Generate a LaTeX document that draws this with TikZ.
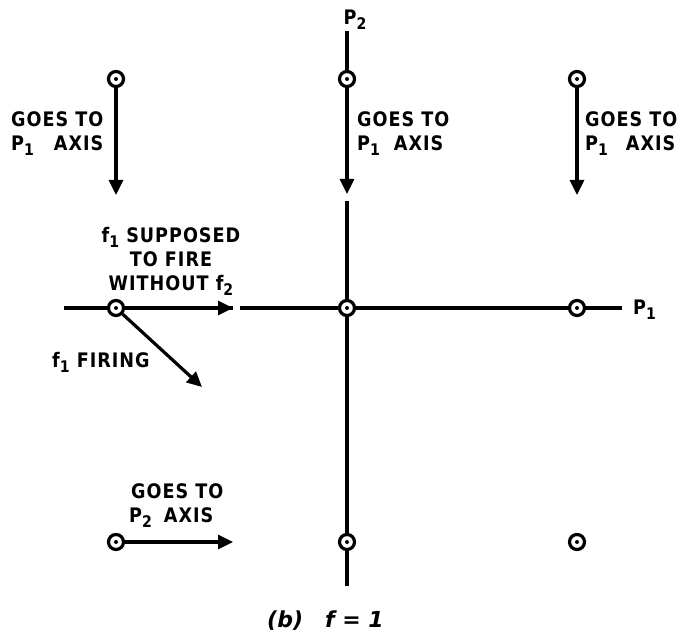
\documentclass[tikz,border=0pt]{standalone}
\usepackage{fontspec}
\setmainfont{DejaVu Sans}
\usetikzlibrary{arrows.meta}
\newcommand{\sbs}[1]{\raisebox{-5pt}{\fontsize{16}{16}\selectfont #1}}
\begin{document}
\begin{tikzpicture}[x=1pt,y=-1pt,
  pt/.style={circle,draw,line width=3.2pt,minimum size=15pt,inner sep=0pt,fill=white,
    label={[circle,fill,inner sep=0pt,minimum size=4pt]center:{}}},
  ln/.style={line width=3.2pt},
  arr/.style={ln,-{Triangle[length=15pt,width=14pt]}},
  lab/.style={font=\fontsize{20}{24}\selectfont\bfseries\addfontfeatures{FakeStretch=0.88,LetterSpace=5},inner sep=0pt},
  captext/.style={font=\fontsize{22}{24}\selectfont\bfseries\itshape,inner sep=0pt}]
\useasboundingbox (0,0) rectangle (681,636);
% coordinates
\coordinate (p2top) at (347,31);
\coordinate (a1e) at (116,195);
\coordinate (a2e) at (347,194);
\coordinate (a3e) at (577,195);
\coordinate (vstart) at (347,201);
\coordinate (vend) at (347,586);
\coordinate (hl) at (64,308);
\coordinate (he) at (233,308);
\coordinate (hstart) at (240,308);
\coordinate (hend) at (622,308);
\coordinate (de) at (202,387);
\coordinate (ce) at (233,542);
% lines
\draw[ln] (p2top) -- (347,79);
\draw[ln] (vstart) -- (vend);
\draw[ln] (hl) -- (he);
\draw[ln] (hstart) -- (hend);
% points
\node[pt] (a1) at (116,79) {};
\node[pt] (a2) at (347,79) {};
\node[pt] (a3) at (577,79) {};
\node[pt] (b1) at (116,308) {};
\node[pt] (b2) at (347,308) {};
\node[pt] (b3) at (577,308) {};
\node[pt] (c1) at (116,542) {};
\node[pt] (c2) at (347,542) {};
\node[pt] (c3) at (577,542) {};
% arrows
\draw[arr] (a1) -- (a1e);
\draw[arr] (a2) -- (a2e);
\draw[arr] (a3) -- (a3e);
\draw[arr] (b1) -- (he);
\draw[arr] (b1) -- (de);
\draw[arr] (c1) -- (ce);
% labels
\node[lab,anchor=center] (lp2) at (355,20) {P\sbs{2}};
\node[lab,anchor=west] (lp1) at (633,310) {P\sbs{1}};
\node[lab,anchor=north west,align=left] (t1) at (11,111) {GOES TO\\P\sbs{1}\hspace{20pt}AXIS};
\node[lab,anchor=north west,align=left] (t2) at (357,111) {GOES TO\\P\sbs{1}\hspace{14pt}AXIS};
\node[lab,anchor=north west,align=left] (t3) at (585,111) {GOES TO\\P\sbs{1}\hspace{18pt}AXIS};
\node[lab,anchor=north,align=center] (t4) at (171,227) {f\sbs{1} SUPPOSED\\TO FIRE\\WITHOUT f\sbs{2}};
\node[lab,anchor=base west] (t5) at (52,368) {f\sbs{1} FIRING};
\node[lab,anchor=north west,align=left] (t6) at (129,483) {\hspace{2pt}GOES TO\\P\sbs{2}\hspace{12pt}AXIS};
\node[captext,anchor=base west] (cp) at (267,627) {(b)\hspace{22pt}f = 1};
\end{tikzpicture}
\end{document}
